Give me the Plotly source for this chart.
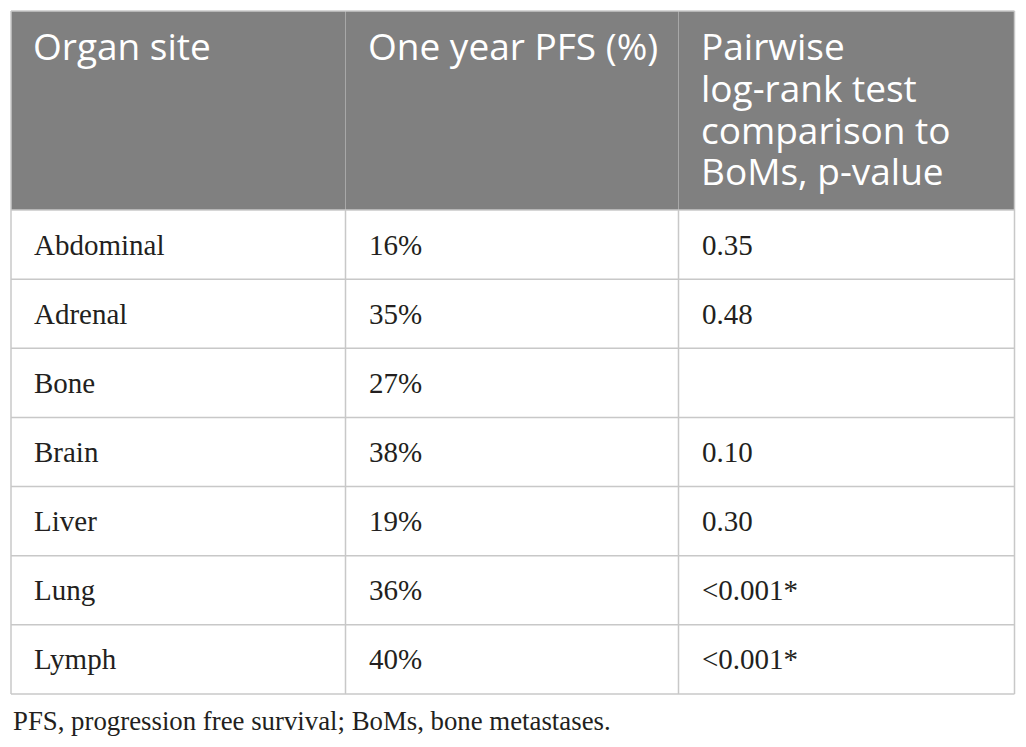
import plotly.graph_objects as go

# ---- data ----
header = ["Organ site", "One year PFS (%)", "Pairwise<br>log-rank test<br>comparison to<br>BoMs, p-value"]
organ_sites = ["Abdominal", "Adrenal", "Bone", "Brain", "Liver", "Lung", "Lymph"]
pfs_one_year = ["16%", "35%", "27%", "38%", "19%", "36%", "40%"]
p_values = ["0.35", "0.48", "", "0.10", "0.30", "<0.001*", "<0.001*"]
footnote = "PFS, progression free survival; BoMs, bone metastases."

columns = [organ_sites, pfs_one_year, p_values]

# ---- layout constants (pixel units on hidden axes) ----
W, H = 1026, 747
page_off = 8          # the page body margin; axes ranges compensate for it
left, top = 11, 11
col_widths = [334.5, 333, 336]
header_h = 199
row_h = (694 - (top + header_h)) / len(organ_sites)
pad_x = 21
head_fs = 37
head_line_gap = 41.8
head_text_top = 18.5

header_fill = "#808080"
grid_col = "#c8c8c8"
head_div_col = "#a8a8a8"
text_col = "#231f20"

col_left = [left]
for w in col_widths:
    col_left.append(col_left[-1] + w)
right = col_left[-1]
body_top = top + header_h
bottom = body_top + row_h * len(organ_sites)

fig = go.Figure()
shapes = []
annotations = []

# header background
shapes.append(dict(type="rect", xref="x", yref="y", x0=left, x1=right, y0=top, y1=body_top,
                   fillcolor=header_fill, line=dict(width=0), layer="below"))
# header column dividers
for x in col_left[1:-1]:
    shapes.append(dict(type="line", xref="x", yref="y", x0=x, x1=x, y0=top, y1=body_top,
                       line=dict(color=head_div_col, width=1)))
# body vertical lines
for x in col_left:
    shapes.append(dict(type="line", xref="x", yref="y", x0=x, x1=x, y0=body_top, y1=bottom,
                       line=dict(color=grid_col, width=1.5)))
# outer vertical border in header
for x in (left, right):
    shapes.append(dict(type="line", xref="x", yref="y", x0=x, x1=x, y0=top, y1=body_top,
                       line=dict(color=grid_col, width=1.5)))
# horizontal lines
shapes.append(dict(type="line", xref="x", yref="y", x0=left, x1=right, y0=top, y1=top,
                   line=dict(color=grid_col, width=1.5)))
for i in range(len(organ_sites) + 1):
    y = body_top + i * row_h
    shapes.append(dict(type="line", xref="x", yref="y", x0=left, x1=right, y0=y, y1=y,
                       line=dict(color=grid_col, width=1.5)))

# header text: line spacing set by the annotation font size, glyph size by the span
for j, h in enumerate(header):
    txt = "<br>".join(f"<span style='font-size:{head_fs}px'>{ln}</span>" for ln in h.split("<br>"))
    annotations.append(dict(
        text=txt, x=col_left[j] + pad_x, y=head_text_top,
        xref="x", yref="y", xanchor="left", yanchor="top", align="left",
        showarrow=False, borderpad=0,
        font=dict(family="Open Sans", size=head_line_gap / 1.3, color="white")))

# body text
for j, col in enumerate(columns):
    for i, v in enumerate(col):
        if not v:
            continue
        annotations.append(dict(
            text=v, x=col_left[j] + pad_x, y=body_top + (i + 0.5) * row_h,
            xref="x", yref="y", xanchor="left", yanchor="middle", showarrow=False,
            font=dict(family="Liberation Serif", size=29, color=text_col)))

# footnote
annotations.append(dict(
    text=footnote, x=left, y=721, xref="x", yref="y", xanchor="left", yanchor="middle",
    showarrow=False, font=dict(family="Liberation Serif", size=26.8, color=text_col)))

fig.update_layout(
    width=W, height=H, margin=dict(l=0, r=0, t=0, b=0),
    paper_bgcolor="white", plot_bgcolor="white",
    xaxis=dict(range=[page_off, W + page_off], visible=False, fixedrange=True),
    yaxis=dict(range=[H + page_off, page_off], visible=False, fixedrange=True),
    shapes=shapes, annotations=annotations, showlegend=False,
)

fig.write_html("out.html")
